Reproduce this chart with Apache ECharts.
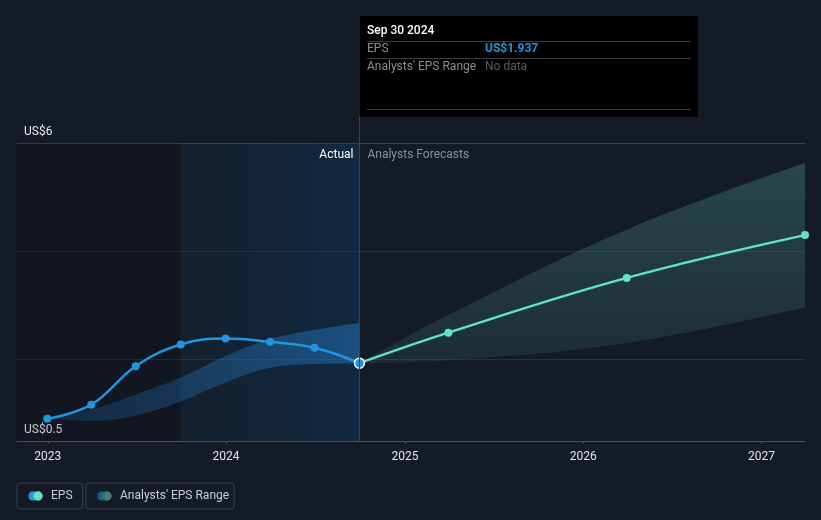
<!DOCTYPE html>
<html>
<head>
<meta charset="utf-8">
<script src="https://cdn.jsdelivr.net/npm/echarts@6/dist/echarts.min.js"></script>
<style>
  html, body { margin: 0; padding: 0; background: #151b26; }
  #chart { width: 821px; height: 520px; }
</style>
</head>
<body>
<div id="chart"></div>
<script>
// ---- data ----
const actualDates = ['2022-12-31','2023-03-31','2023-06-30','2023-09-30','2023-12-31','2024-03-31','2024-06-30','2024-09-30'];
const epsActual   = [0.91, 1.17, 1.88, 2.28, 2.39, 2.33, 2.22, 1.937];
const pastRangeLow  = [0.91, 0.87, 0.97, 1.23, 1.58, 1.85, 1.92, 1.937];
const pastRangeHigh = [0.91, 1.08, 1.36, 1.67, 2.07, 2.38, 2.55, 2.68];

const forecastDates = ['2024-09-30','2025-03-31','2026-03-31','2027-03-31'];
const epsForecast   = [1.937, 2.50, 3.51, 4.30];
const fcRangeLow    = [1.937, 1.99, 2.31, 2.97];
const fcRangeHigh   = [1.937, 2.83, 4.40, 5.63];

const yTickLabels = { 0.5: 'US$0.5', 6: 'US$6' };
const xMin = '2022-10-30';
const xMax = '2027-03-31';
const actualStart = '2023-09-30';
const lastActual = '2024-09-30';
const tipTitle = 'Sep 30 2024';
const tipEps = 'US$1.937';
const tipRange = 'No data';

// ---- styles ----
const BLUE = '#2394df';
const TEAL = '#5fe3cd';
const FONT = 'Roboto, "Noto Sans", sans-serif';
const SMOOTH = 0.4;

function twoDots(c1, c2) {
  const svg = '<svg xmlns="http://www.w3.org/2000/svg" width="30" height="20" viewBox="0 0 30 20">' +
    '<circle cx="10" cy="10" r="9.5" fill="' + c1 + '"/>' +
    '<circle cx="20" cy="10" r="9.5" fill="' + c2 + '"/></svg>';
  return 'image://data:image/svg+xml;charset=utf-8,' + encodeURIComponent(svg);
}

const pair = (dates, vals) => dates.map((d, i) => [d, vals[i]]);
const diff = (dates, lo, hi) => dates.map((d, i) => [d, +(hi[i] - lo[i]).toFixed(4)]);

const gridColors = [];
for (let i = 0; i < 12; i++) {
  gridColors.push(i === 11 ? '#3c434e' : (i % 4 === 3 ? '#2a313c' : 'rgba(0,0,0,0)'));
}

const chart = echarts.init(document.getElementById('chart'));

const legendText = { color: '#c9ccd1', fontSize: 12, lineHeight: 14, padding: [0, 0, 0, 3], fontFamily: FONT };

const option = {
  backgroundColor: '#151b26',
  textStyle: { fontFamily: FONT },
  animation: false,
  grid: { left: 17, right: 16, top: 143, bottom: 79 },
  legend: [
    {
      data: ['EPS'], left: 17, top: 483,
      icon: twoDots(BLUE, TEAL), itemWidth: 15, itemHeight: 10,
      padding: [6, 10, 6, 11], borderColor: '#3a404a', borderWidth: 1, borderRadius: 3,
      textStyle: legendText, selectedMode: false
    },
    {
      data: ["Analysts' EPS Range"], left: 86, top: 483,
      icon: twoDots('#1e5a8a', '#3d7e79'), itemWidth: 15, itemHeight: 10,
      padding: [6, 5, 6, 11], borderColor: '#3a404a', borderWidth: 1, borderRadius: 3,
      textStyle: legendText, selectedMode: false
    }
  ],
  xAxis: {
    type: 'time', min: xMin, max: xMax,
    minInterval: 365 * 24 * 3600 * 1000,
    maxInterval: 366 * 24 * 3600 * 1000,
    axisLine: { show: true, lineStyle: { color: '#4a505a', width: 1 } },
    axisTick: { show: true, length: 3, lineStyle: { color: '#4a505a' } },
    splitLine: { show: false },
    axisLabel: {
      color: '#e2e4e8', fontSize: 12, margin: 10,
      showMinLabel: false, showMaxLabel: false,
      formatter: (v) => String(new Date(v).getFullYear())
    }
  },
  yAxis: {
    type: 'value', min: 0.5, max: 6, interval: 0.5,
    axisLine: { show: false }, axisTick: { show: false },
    splitLine: { show: true, lineStyle: { color: gridColors, width: 1 } },
    axisLabel: {
      inside: true, margin: 7, align: 'left', verticalAlign: 'bottom',
      padding: [0, 0, 5, 0], color: '#e6e8eb', fontSize: 12,
      showMinLabel: true, showMaxLabel: true,
      formatter: (v) => yTickLabels[v] || ''
    }
  },
  series: [
    {
      name: "Analysts' EPS Range", type: 'line', stack: 'past', smooth: SMOOTH,
      data: pair(actualDates, pastRangeLow), symbol: 'none', silent: true,
      lineStyle: { opacity: 0 }, z: 1,
      markArea: {
        silent: true,
        data: [
          [
            { xAxis: xMin, itemStyle: { color: 'rgba(0,0,0,0.15)' } },
            { xAxis: actualStart }
          ],
          [
            {
              xAxis: actualStart,
              itemStyle: {
                color: {
                  type: 'linear', x: 0, y: 0, x2: 1, y2: 0,
                  colorStops: [
                    { offset: 0, color: 'rgba(10,62,104,0.12)' },
                    { offset: 1, color: 'rgba(10,62,104,0.40)' }
                  ]
                }
              },
              label: {
                show: true, position: 'insideTopRight', distance: 6,
                formatter: 'Actual', color: '#ffffff', fontSize: 12, fontFamily: FONT
              }
            },
            { xAxis: lastActual }
          ],
          [
            {
              xAxis: lastActual,
              itemStyle: { color: 'rgba(0,0,0,0)' },
              label: {
                show: true, position: 'insideTopLeft', distance: 8, offset: [0, -2],
                formatter: 'Analysts Forecasts', color: '#8a9099', fontSize: 12, fontFamily: FONT
              }
            },
            { xAxis: xMax }
          ]
        ]
      }
    },
    {
      name: "Analysts' EPS Range", type: 'line', stack: 'past', smooth: SMOOTH,
      data: diff(actualDates, pastRangeLow, pastRangeHigh), symbol: 'none', silent: true,
      lineStyle: { opacity: 0 }, z: 1,
      areaStyle: {
        color: {
          type: 'linear', x: 0, y: 0, x2: 1, y2: 0,
          colorStops: [
            { offset: 0, color: 'rgba(40,130,210,0.25)' },
            { offset: 1, color: 'rgba(40,130,210,0.62)' }
          ]
        }
      }
    },
    {
      name: "Analysts' EPS Range", type: 'line', stack: 'fc', smooth: SMOOTH,
      data: pair(forecastDates, fcRangeLow), symbol: 'none', silent: true,
      lineStyle: { opacity: 0 }, z: 1
    },
    {
      name: "Analysts' EPS Range", type: 'line', stack: 'fc', smooth: SMOOTH,
      data: diff(forecastDates, fcRangeLow, fcRangeHigh), symbol: 'none', silent: true,
      lineStyle: { opacity: 0 }, z: 1,
      areaStyle: {
        color: {
          type: 'linear', x: 0, y: 0, x2: 0, y2: 1,
          colorStops: [
            { offset: 0, color: 'rgba(80,165,152,0.46)' },
            { offset: 1, color: 'rgba(80,165,152,0.18)' }
          ]
        }
      }
    },
    {
      name: 'EPS', type: 'line', smooth: SMOOTH, z: 3,
      data: pair(forecastDates, epsForecast).map((p, i) => i === 0 ? { value: p, symbol: 'none' } : p),
      symbol: 'circle', symbolSize: 8, showAllSymbol: true,
      lineStyle: { color: TEAL, width: 2.5 }, itemStyle: { color: TEAL }
    },
    {
      name: 'EPS', type: 'line', smooth: SMOOTH, z: 4,
      data: pair(actualDates, epsActual).map((p, i, arr) => i === arr.length - 1 ?
        { value: p, symbolSize: 10, itemStyle: { color: BLUE, borderColor: '#ffffff', borderWidth: 1.5 } } : p),
      symbol: 'circle', symbolSize: 8, showAllSymbol: true,
      lineStyle: { color: BLUE, width: 2.5 }, itemStyle: { color: BLUE }
    }
  ]
};

chart.setOption(option);

// ---- static tooltip anchored to the last actual point ----
const px = chart.convertToPixel({ xAxisIndex: 0, yAxisIndex: 0 }, [lastActual, 0.5]);
const gridBottom = px[1];
const boxLeft = Math.round(px[0]) + 1;
const boxTop = 16, boxW = 338, boxH = 101;
chart.setOption({
  graphic: [
    {
      type: 'line', silent: true, z: 50,
      shape: { x1: Math.round(px[0]) + 0.5, y1: boxTop + boxH, x2: Math.round(px[0]) + 0.5, y2: gridBottom },
      style: { stroke: '#1d4a72', lineWidth: 1 }
    },
    {
      type: 'group', left: boxLeft, top: boxTop, z: 100, silent: true,
      children: [
        { type: 'rect', shape: { x: 0, y: 0, width: boxW, height: boxH }, style: { fill: '#000000' } },
        { type: 'text', x: 7, y: 15, style: { text: tipTitle, fill: '#ffffff', font: '500 12px ' + FONT, textVerticalAlign: 'middle' } },
        { type: 'line', shape: { x1: 7, y1: 25.5, x2: 331, y2: 25.5 }, style: { stroke: '#3a3a3a', lineWidth: 1 } },
        { type: 'text', x: 7, y: 32.5, style: { text: 'EPS', fill: '#8e8e8e', font: '12px ' + FONT, textVerticalAlign: 'middle' } },
        { type: 'text', x: 125, y: 32.5, style: { text: tipEps, fill: BLUE, font: 'bold 12px ' + FONT, textVerticalAlign: 'middle' } },
        { type: 'line', shape: { x1: 7, y1: 42.5, x2: 331, y2: 42.5 }, style: { stroke: '#3a3a3a', lineWidth: 1 } },
        { type: 'text', x: 7, y: 50.5, style: { text: "Analysts' EPS Range", fill: '#8e8e8e', font: '12px ' + FONT, textVerticalAlign: 'middle' } },
        { type: 'text', x: 125, y: 50.5, style: { text: tipRange, fill: '#5c5c5c', font: '12px ' + FONT, textVerticalAlign: 'middle' } },
        { type: 'line', shape: { x1: 7, y1: 93.5, x2: 331, y2: 93.5 }, style: { stroke: '#3a3a3a', lineWidth: 1 } }
      ]
    }
  ]
});
</script>
</body>
</html>
